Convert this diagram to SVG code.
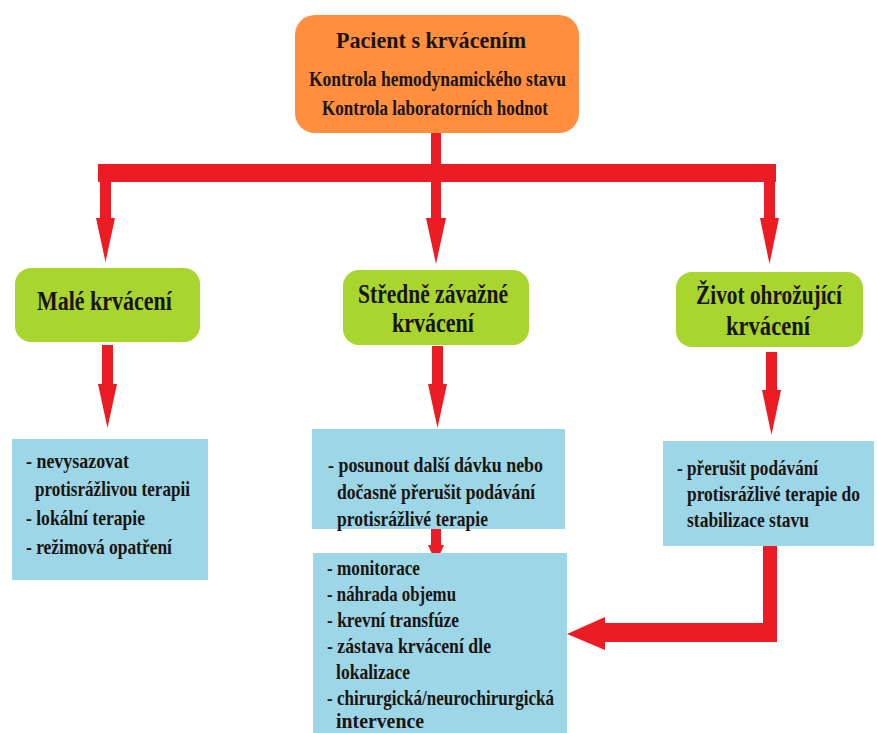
<svg xmlns="http://www.w3.org/2000/svg" width="877" height="733" viewBox="0 0 877 733">
<style>
.t{font-family:"Liberation Serif","Times New Roman","DejaVu Serif",serif;font-weight:bold;fill:#1a1410}
.orange{fill:#FF8F3E}
.green{fill:#A8D52E}
.blue{fill:#9DD6E7}
.red{fill:#EC1C24}
.h1{font-size:24px}
.h2{font-size:20px}
.g{font-size:28px}
.b{font-size:21px}
</style>
<rect width="877" height="733" fill="#ffffff"/>
<g id="connectors">
<path class="red" d="M431,133 H441 V164 H431 Z"/>
<path class="red" d="M98,164 H776 V182 H98 Z"/>
<path class="red" d="M100,182 H111 V218 H115 L105.5,262 L96,218 H100 Z"/>
<path class="red" d="M431,182 H441 V218 H446 L436,264 L426,218 H431 Z"/>
<path class="red" d="M764,182 H775 V218 H779 L769.5,264 L760,218 H764 Z"/>
<path class="red" d="M102,345 H113 V384 H117 L107.5,428 L98,384 H102 Z"/>
<path class="red" d="M432,346 H443 V384 H447 L437.5,428 L428,384 H432 Z"/>
<path class="red" d="M766,352 H777 V390 H781 L771.5,435 L762,390 H766 Z"/>
<path class="red" d="M431,526 H441 V545 H444 L436,563 L428,545 H431 Z"/>
<path class="red" d="M763,546 H777 V642 H605 V650 L567,634 L605,617 V623 H763 Z"/>
</g>
<g id="n-pacient">
<rect class="orange" x="295" y="15" width="284" height="118" rx="20"/>
<g transform="scale(0.82 1)">
<text class="t h1" x="409.8" y="48" textLength="231.7" lengthAdjust="spacingAndGlyphs">Pacient s krvácením</text>
<text class="t h2" x="376.8" y="86" textLength="313.4" lengthAdjust="spacingAndGlyphs">Kontrola hemodynamického stavu</text>
<text class="t h2" x="392.7" y="115" textLength="275.6" lengthAdjust="spacingAndGlyphs">Kontrola laboratorních hodnot</text>
</g>
</g>
<g id="n-male">
<rect class="green" x="15" y="268" width="185" height="74" rx="16"/>
<g transform="scale(0.82 1)">
<text class="t g" x="45.1" y="310" textLength="164.6" lengthAdjust="spacingAndGlyphs">Malé krvácení</text>
</g>
</g>
<g id="n-stredne">
<rect class="green" x="343" y="270" width="186" height="75" rx="16"/>
<g transform="scale(0.82 1)">
<text class="t g" x="436.6" y="303" textLength="182.9" lengthAdjust="spacingAndGlyphs">Středně závažné</text>
<text class="t g" x="478" y="332" textLength="100" lengthAdjust="spacingAndGlyphs">krvácení</text>
</g>
</g>
<g id="n-zivot">
<rect class="green" x="676" y="272" width="187" height="75" rx="16"/>
<g transform="scale(0.82 1)">
<text class="t g" x="848.8" y="304" textLength="178" lengthAdjust="spacingAndGlyphs">Život ohrožující</text>
<text class="t g" x="885.4" y="335" textLength="102.4" lengthAdjust="spacingAndGlyphs">krvácení</text>
</g>
</g>
<g id="n-male-opatreni">
<rect class="blue" x="12" y="439" width="196" height="141"/>
<g transform="scale(0.82 1)">
<text class="t b" x="31.7" y="468" textLength="125.6" lengthAdjust="spacingAndGlyphs">- nevysazovat</text>
<text class="t b" x="42.7" y="496" textLength="189" lengthAdjust="spacingAndGlyphs">protisrážlivou terapii</text>
<text class="t b" x="31.7" y="525" textLength="145.1" lengthAdjust="spacingAndGlyphs">- lokální terapie</text>
<text class="t b" x="31.7" y="554" textLength="178" lengthAdjust="spacingAndGlyphs">- režimová opatření</text>
</g>
</g>
<g id="n-stredne-opatreni">
<rect class="blue" x="312" y="429" width="253" height="100"/>
<g transform="scale(0.82 1)">
<text class="t b" x="400" y="472" textLength="262.2" lengthAdjust="spacingAndGlyphs">- posunout další dávku nebo</text>
<text class="t b" x="411" y="499" textLength="241.5" lengthAdjust="spacingAndGlyphs">dočasně přerušit podávání</text>
<text class="t b" x="411" y="526" textLength="184.1" lengthAdjust="spacingAndGlyphs">protisrážlivé terapie</text>
</g>
</g>
<g id="n-spolecna-opatreni">
<rect class="blue" x="313" y="553" width="254" height="190"/>
<g transform="scale(0.82 1)">
<text class="t b" x="398.8" y="575" textLength="113.4" lengthAdjust="spacingAndGlyphs">- monitorace</text>
<text class="t b" x="398.8" y="601" textLength="157.3" lengthAdjust="spacingAndGlyphs">- náhrada objemu</text>
<text class="t b" x="398.8" y="627" textLength="161" lengthAdjust="spacingAndGlyphs">- krevní transfúze</text>
<text class="t b" x="398.8" y="653" textLength="200" lengthAdjust="spacingAndGlyphs">- zástava krvácení dle</text>
<text class="t b" x="409.8" y="679" textLength="90.2" lengthAdjust="spacingAndGlyphs">lokalizace</text>
<text class="t b" x="398.8" y="705" textLength="276.8" lengthAdjust="spacingAndGlyphs">- chirurgická/neurochirurgická</text>
<text class="t b" x="409.8" y="728" textLength="107.3" lengthAdjust="spacingAndGlyphs">intervence</text>
</g>
</g>
<g id="n-zivot-opatreni">
<rect class="blue" x="663" y="441" width="211" height="105"/>
<g transform="scale(0.82 1)">
<text class="t b" x="825.6" y="475" textLength="172" lengthAdjust="spacingAndGlyphs">- přerušit podávání</text>
<text class="t b" x="837.8" y="501" textLength="211" lengthAdjust="spacingAndGlyphs">protisrážlivé terapie do</text>
<text class="t b" x="837.8" y="527" textLength="148.8" lengthAdjust="spacingAndGlyphs">stabilizace stavu</text>
</g>
</g>
</svg>
